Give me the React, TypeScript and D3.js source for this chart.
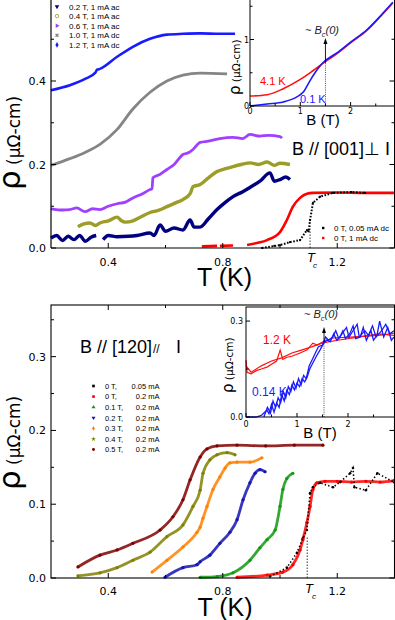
import React from "react";
import * as d3 from "d3";

type P = [number, number | null];

// ---------- TOP PANEL : B // [001] ⊥ I  (T in K, rho in µΩ-cm) ----------
const topLegend = ["0.2 T, 1 mA ac", "0.4 T, 1 mA ac", "0.6 T, 1 mA ac", "1.0 T, 1 mA dc", "1.2 T, 1 mA dc"];
const topColors = ["#000080", "#9c9c28", "#a040ff", "#858585", "#1a1aff"];
const topZeroLegend = ["0 T, 0.05 mA dc", "0 T, 1 mA dc"];

const top12T: P[] = [[0.2,0.378],[0.266,0.39],[0.319,0.405],[0.355,0.42],[0.361,0.427],[0.371,0.429],[0.431,0.458],[0.486,0.482],[0.546,0.501],[0.605,0.511],[0.661,0.513],[0.721,0.514],[0.790,0.513],[0.843,0.513]];
const top10T: P[] = [[0.2,0.198],[0.266,0.214],[0.319,0.229],[0.371,0.248],[0.431,0.284],[0.486,0.333],[0.546,0.373],[0.605,0.40],[0.661,0.414],[0.721,0.419],[0.815,0.417]];
const top06T: P[] = [[0.2,0.094],[0.24,0.091],[0.266,0.092],[0.29,0.096],[0.319,0.087],[0.345,0.094],[0.371,0.092],[0.40,0.1],[0.431,0.106],[0.46,0.11],[0.486,0.12],[0.52,0.13],[0.546,0.14],[0.553,0.142],[0.556,0.168],[0.58,0.176],[0.605,0.188],[0.63,0.2],[0.661,0.224],[0.68,0.228],[0.696,0.236],[0.721,0.253],[0.75,0.256],[0.790,0.262],[0.836,0.265],[0.87,0.262],[0.895,0.272],[0.93,0.268],[0.96,0.27],[1.0,0.267],[1.007,0.263]];
const top04T: P[] = [[0.294,0.051],[0.315,0.058],[0.336,0.06],[0.355,0.054],[0.371,0.06],[0.40,0.065],[0.431,0.074],[0.445,0.066],[0.459,0.062],[0.486,0.065],[0.515,0.075],[0.546,0.085],[0.575,0.09],[0.605,0.099],[0.635,0.108],[0.661,0.116],[0.686,0.13],[0.696,0.147],[0.721,0.152],[0.75,0.168],[0.780,0.183],[0.81,0.19],[0.836,0.195],[0.865,0.2],[0.895,0.204],[0.925,0.2],[0.955,0.206],[0.98,0.198],[1.0,0.203],[1.035,0.2]];
const top02T: P[] = [[0.2,0.024],[0.22,0.03],[0.24,0.018],[0.26,0.028],[0.28,0.02],[0.30,0.03],[0.32,0.016],[0.34,0.026],[0.358,0.03],[0.37,null],[0.382,0.02],[0.40,0.03],[0.431,0.027],[0.47,0.028],[0.50,0.03],[0.546,0.036],[0.56,0.03],[0.581,0.055],[0.60,0.04],[0.63,0.048],[0.661,0.043],[0.686,0.067],[0.70,0.05],[0.721,0.05],[0.75,0.07],[0.780,0.092],[0.81,0.11],[0.836,0.123],[0.87,0.135],[0.895,0.145],[0.93,0.16],[0.965,0.18],[0.98,0.16],[1.0,0.164],[1.02,0.17],[1.035,0.164]];
const top0Tdc1: P[] = [[0.727,0.004],[0.78,0.005],[0.785,null],[0.79,0.005],[0.836,0.006],[0.86,null],[0.885,0.007],[0.92,0.012],[0.955,0.019],[1.0,0.038],[1.024,0.067],[1.045,0.099],[1.07,0.12],[1.094,0.13],[1.115,0.132],[1.2,0.133],[1.3,0.132],[1.398,0.132]];
const top0Tdc005: P[] = [[0.937,0.0],[0.98,0.005],[1.0,0.007],[1.035,0.014],[1.07,0.019],[1.094,0.043],[1.10,0.04],[1.105,0.067],[1.115,0.108],[1.14,0.123],[1.185,0.132],[1.25,0.134],[1.297,0.132]];

// top inset : rho vs B
const topIn41K: P[] = [[0,0.15],[0.34,0.17],[0.66,0.26],[1.0,0.4],[1.25,0.53],[1.45,0.64],[1.75,0.8],[2.0,0.95],[2.33,1.14],[2.6,1.35],[2.84,1.55]];
const topIn01K: P[] = [[0,0],[0.34,0.03],[0.66,0.06],[0.94,0.14],[1.06,0.21],[1.2,0.39],[1.33,0.54],[1.45,0.65],[1.75,0.81],[2.0,0.96],[2.33,1.15],[2.6,1.36],[2.84,1.56]];

// ---------- BOTTOM PANEL : B // [120] // I ----------
const botField = ["0 T,", "0 T,", "0.1 T,", "0.2 T,", "0.3 T,", "0.4 T,", "0.5 T,"];
const botCurrent = ["0.05 mA", "0.2 mA", "0.2 mA", "0.2 mA", "0.2 mA", "0.2 mA", "0.2 mA"];
const botColors = ["#000000", "#ff0000", "#119911", "#1414b4", "#ff8000", "#808000", "#800000"];

const bot0T005: P[] = [[0.965,0.002],[1.024,0.014],[1.059,0.034],[1.080,0.054],[1.094,0.065],[1.105,0.115],[1.115,0.123],[1.140,0.129],[1.185,0.123],[1.21,0.13],[1.245,0.142],[1.255,0.149],[1.26,0.123],[1.3,0.119],[1.34,0.142],[1.398,0.13]];
const bot0T02: P[] = [[0.850,0.001],[0.955,0.004],[1.010,0.008],[1.045,0.018],[1.070,0.038],[1.080,0.052],[1.094,0.075],[1.105,0.097],[1.115,0.12],[1.129,0.129],[1.157,0.131],[1.2,0.131],[1.25,0.13],[1.3,0.131],[1.35,0.13],[1.398,0.132]];
const bot01T: P[] = [[0.721,0.001],[0.780,0.002],[0.836,0.007],[0.895,0.024],[0.930,0.041],[0.955,0.052],[0.983,0.065],[1.0,0.097],[1.010,0.12],[1.024,0.135],[1.045,0.142]];
const bot02T: P[] = [[0.598,0.001],[0.661,0.014],[0.710,0.018],[0.721,0.022],[0.755,0.031],[0.790,0.047],[0.825,0.062],[0.850,0.079],[0.871,0.106],[0.895,0.129],[0.913,0.142],[0.930,0.147],[0.948,0.144]];
const bot03T: P[] = [[0.553,0.008],[0.605,0.024],[0.661,0.042],[0.710,0.062],[0.721,0.069],[0.731,0.081],[0.745,0.097],[0.766,0.12],[0.790,0.137],[0.808,0.149],[0.825,0.156],[0.850,0.157],[0.895,0.157],[0.937,0.163]];
const bot04T: P[] = [[0.294,0.003],[0.371,0.007],[0.431,0.014],[0.486,0.024],[0.546,0.035],[0.605,0.056],[0.661,0.072],[0.696,0.097],[0.721,0.119],[0.731,0.142],[0.755,0.16],[0.780,0.167],[0.815,0.17],[0.843,0.167]];
const bot05T: P[] = [[0.294,0.015],[0.371,0.031],[0.431,0.038],[0.486,0.047],[0.581,0.065],[0.626,0.083],[0.661,0.106],[0.686,0.133],[0.721,0.164],[0.745,0.175],[0.780,0.179],[0.85,0.18],[0.95,0.179],[1.05,0.18],[1.150,0.18]];
const botSeries = [bot0T005, bot0T02, bot01T, bot02T, bot03T, bot04T, bot05T];

// bottom inset : rho vs B
const botIn12Ka: P[] = [[0,0.178],[0.02,0.14],[0.1,0.135],[0.2,0.145],[0.3,0.15],[0.41,0.156],[0.5,0.165],[0.6,0.175],[0.67,0.209],[0.72,0.18],[0.8,0.187],[0.9,0.19],[1.06,0.2],[1.2,0.21],[1.31,0.231],[1.4,0.225],[1.51,0.235],[1.7,0.247],[2.04,0.25],[2.37,0.253],[2.6,0.255],[2.9,0.262]];
const botIn12Kb: P[] = [[0,0.16],[0.1,0.14],[0.3,0.16],[0.5,0.175],[0.7,0.185],[0.9,0.2],[1.1,0.21],[1.3,0.22],[1.5,0.232],[1.8,0.24],[2.2,0.25],[2.6,0.26],[2.9,0.255]];
const botIn014Ka: P[] = [[0,0],[0.2,0],[0.3,0.005],[0.41,0.022],[0.45,0.01],[0.5,0.04],[0.55,0.015],[0.6,0.044],[0.65,0.03],[0.7,0.07],[0.75,0.05],[0.8,0.084],[0.85,0.07],[0.9,0.1],[0.95,0.085],[1.0,0.106],[1.05,0.095],[1.1,0.12],[1.15,0.11],[1.2,0.125],[1.25,0.15],[1.31,0.169],[1.38,0.19],[1.45,0.209],[1.52,0.23],[1.59,0.241],[1.65,0.235],[1.72,0.26],[1.78,0.24],[1.84,0.25],[1.9,0.27],[1.95,0.245],[2.04,0.262],[2.1,0.285],[2.15,0.245],[2.24,0.25],[2.3,0.28],[2.36,0.24],[2.45,0.27],[2.5,0.24],[2.57,0.256],[2.62,0.3],[2.7,0.25],[2.78,0.28],[2.85,0.24],[2.9,0.25]];
const botIn014Kb: P[] = [[0.35,0],[0.42,0.03],[0.48,0.012],[0.53,0.05],[0.58,0.03],[0.63,0.06],[0.68,0.045],[0.73,0.08],[0.78,0.06],[0.83,0.095],[0.88,0.08],[0.93,0.11],[0.98,0.09],[1.03,0.12],[1.08,0.1],[1.13,0.13],[1.18,0.12],[1.24,0.16],[1.3,0.18],[1.36,0.2],[1.42,0.22],[1.5,0.225],[1.56,0.25],[1.62,0.24],[1.7,0.25],[1.76,0.27],[1.82,0.245],[1.88,0.26],[1.97,0.28],[2.02,0.25],[2.08,0.265],[2.18,0.29],[2.22,0.25],[2.33,0.27],[2.4,0.255],[2.48,0.285],[2.55,0.25],[2.66,0.27],[2.74,0.29],[2.82,0.26],[2.9,0.27]];

// ---------- scales ----------
const xT = d3.scaleLinear().domain([0.2, 1.4]).range([51, 394.5]);
const yT = d3.scaleLinear().domain([0, 0.6]).range([248, -2.5]);
const yB = d3.scaleLinear().domain([0, 0.37]).range([578, 305]);
const xTI = d3.scaleLinear().domain([0, 2.863]).range([250, 394]);
const yTI = d3.scaleLinear().domain([0, 1.594]).range([106, 0]);
const xBI = d3.scaleLinear().domain([0, 2.902]).range([246, 394]);
const yBI = d3.scaleLinear().domain([0, 0.344]).range([417, 307]);

const lineOf = (data: P[], x: any, y: any, curve: any = d3.curveMonotoneX) =>
  d3.line<P>().defined((d) => d[1] !== null).x((d) => x(d[0])).y((d) => y(d[1] as number)).curve(curve)(data) || "";

const F = "'Liberation Sans', Arial, sans-serif";
const FD = "'DejaVu Sans', sans-serif";

function Ticks({ x, y, xMaj, xMin, yMaj, yMin, L = 5, l = 3, right = true, top = true }: any) {
  const [x0, x1] = x.range();
  const [yb, yt] = y.range();
  const out: any[] = [];
  const add = (k: string, a: number, b: number, c: number, d: number) =>
    out.push(<line key={k} x1={a} y1={b} x2={c} y2={d} stroke="#000" strokeWidth={1} />);
  xMaj.forEach((v: number, i: number) => { add("xb" + i, x(v), yb, x(v), yb - L); if (top) add("xt" + i, x(v), yt, x(v), yt + L); });
  xMin.forEach((v: number, i: number) => { add("xbm" + i, x(v), yb, x(v), yb - l); if (top) add("xtm" + i, x(v), yt, x(v), yt + l); });
  yMaj.forEach((v: number, i: number) => { add("yl" + i, x0, y(v), x0 + L, y(v)); if (right) add("yr" + i, x1, y(v), x1 - L, y(v)); });
  yMin.forEach((v: number, i: number) => { add("ylm" + i, x0, y(v), x0 + l, y(v)); if (right) add("yrm" + i, x1, y(v), x1 - l, y(v)); });
  return <g>{out}</g>;
}

const sym = (type: any, size: number) => d3.symbol().type(type).size(size)() || "";

export default function App() {
  const topSeries = [top02T, top04T, top06T, top10T, top12T];
  const topWidths = [3.4, 3.4, 2.8, 2.8, 2.6];
  const topSyms = [d3.symbolTriangle, d3.symbolCircle, d3.symbolTriangle, d3.symbolCross, d3.symbolDiamond];
  const topRot = [180, 0, 90, 45, 0];
  const botSyms = [d3.symbolSquare, d3.symbolSquare, d3.symbolTriangle, d3.symbolTriangle, d3.symbolDiamond, d3.symbolStar, d3.symbolCircle];
  const botRot = [0, 0, 0, 180, 0, 0, 0];
  const legRowsTop = topLegend.map((_, i) => 6.5 + i * 9.6);
  const legRowsBot = botField.map((_, i) => 386 + i * 10.6);

  return (
    <svg width={395} height={620} style={{ position: "absolute", left: 0, top: 0, background: "#fff" }} fontFamily={F}>
      <rect x={0} y={0} width={395} height={620} fill="#fff" />
      {/* ================= TOP PANEL ================= */}
      <g>
        {topSeries.map((s, i) => (
          <path key={"ts" + i} d={lineOf(s, xT, yT)} fill="none" stroke={topColors[i]} strokeWidth={topWidths[i]} strokeLinejoin="round" />
        ))}
        <path d={lineOf(top0Tdc1, xT, yT)} fill="none" stroke="#ff0000" strokeWidth={2.6} />
        <path d={lineOf(top0Tdc005, xT, yT, d3.curveLinear)} fill="none" stroke="#000" strokeWidth={2} strokeDasharray="1.6 1.6" />
        {top0Tdc005.map((d, i) => (
          <circle key={"tb" + i} cx={xT(d[0])} cy={yT(d[1] as number)} r={1.1} fill="#000" />
        ))}
        {/* Tc marker */}
        <line x1={xT(1.105)} x2={xT(1.105)} y1={248} y2={226} stroke="#000" strokeWidth={0.8} strokeDasharray="1.5 1.5" />
        {/* top inset */}
        <rect x={250} y={-1} width={145} height={107} fill="#fff" />
        <path d={lineOf(topIn41K, xTI, yTI)} fill="none" stroke="#ff1010" strokeWidth={1.6} />
        <path d={lineOf(topIn01K, xTI, yTI)} fill="none" stroke="#1a1aff" strokeWidth={1.6} />
        <line x1={xTI(1.5)} x2={xTI(1.5)} y1={106} y2={yTI(0.65)} stroke="#000" strokeWidth={0.7} strokeDasharray="1 1.2" />
        <line x1={xTI(1.5)} x2={xTI(1.5)} y1={yTI(0.65)} y2={42} stroke="#000" strokeWidth={0.9} />
        <path d={`M${xTI(1.5)},38 L${xTI(1.5) - 2},44 L${xTI(1.5) + 2},44 Z`} fill="#000" />
        <text x={305} y={34} fontSize={11} fontStyle="italic" fill="#222">
          <tspan fontStyle="normal">~ </tspan>B<tspan fontSize={7.5} dy={3}>c</tspan><tspan dy={-3}>(0)</tspan>
        </text>
        <text x={260} y={85} fontSize={11} fill="#ff0000">4.1 K</text>
        <text x={300} y={103} fontSize={11} fill="#1a1aff">0.1 K</text>
        <line x1={250} x2={250} y1={-1} y2={106} stroke="#000" strokeWidth={1} />
        <line x1={250} x2={394.5} y1={106} y2={106} stroke="#000" strokeWidth={1} />
        <Ticks x={xTI} y={yTI} xMaj={[0, 1, 2]} xMin={[0.5, 1.5, 2.5]} yMaj={[0, 1]} yMin={[0.5, 1.5]} L={4} l={2.5} right={false} top={false} />
        {[0, 1, 2].map((v) => (
          <text key={"tix" + v} x={xTI(v)} y={114} fontSize={8} fontFamily={FD} textAnchor="middle">{v}</text>
        ))}
        {[0, 1].map((v) => (
          <text key={"tiy" + v} x={249} y={yTI(v) + 3} fontSize={8} fontFamily={FD} textAnchor="end">{v}</text>
        ))}
        <text x={323} y={125} fontSize={15} textAnchor="middle">B (T)</text>
        <text transform="translate(240,95) rotate(-90)" fontFamily={FD}>
          <tspan fontSize={15}>ρ</tspan><tspan fontSize={10.5}> (μΩ-cm)</tspan>
        </text>
        {/* frame & ticks */}
        <line x1={51} x2={51} y1={-1} y2={248} stroke="#000" strokeWidth={1.2} />
        <line x1={51} x2={394.5} y1={248} y2={248} stroke="#000" strokeWidth={1.2} />
        <line x1={394.5} x2={394.5} y1={-1} y2={248} stroke="#000" strokeWidth={1} />
        <Ticks x={xT} y={yT} xMaj={[0.4, 0.8, 1.2]} xMin={[0.6, 1.0]} yMaj={[0, 0.2, 0.4]} yMin={[0.1, 0.3, 0.5]} top={false} />
        {[0.4, 0.8, 1.2].map((v) => (
          <text key={"tx" + v} x={xT(v)} y={265.5} fontSize={11} fontFamily={FD} textAnchor="middle">{v.toFixed(1)}</text>
        ))}
        {[0, 0.2, 0.4].map((v) => (
          <text key={"ty" + v} x={46} y={yT(v) + 4} fontSize={11} fontFamily={FD} textAnchor="end">{v.toFixed(1)}</text>
        ))}
        <text x={307} y={262} fontSize={13} fontStyle="italic">T</text>
        <text x={313} y={267.5} fontSize={8} fontStyle="italic">c</text>
        <text x={224.5} y={286} fontSize={25} textAnchor="middle">T (K)</text>
        <text transform="translate(20,190) rotate(-90)" fontFamily={FD}>
          <tspan fontSize={31}>ρ</tspan><tspan fontSize={17}> (μΩ-cm)</tspan>
        </text>
        <text x={292} y={155} fontSize={18}>B // [001]⊥ I</text>
        {/* legends */}
        {topLegend.map((t, i) => (
          <g key={"tl" + i}>
            <path d={sym(topSyms[i], 9)} transform={`translate(57,${legRowsTop[i]}) rotate(${topRot[i]})`}
              fill={i === 1 ? "none" : topColors[i]} stroke={i === 1 ? topColors[i] : "none"} strokeWidth={0.8} />
            <text x={69} y={legRowsTop[i] + 3} fontSize={8}>{t}</text>
          </g>
        ))}
        {topZeroLegend.map((t, i) => (
          <g key={"tz" + i}>
            <rect x={322} y={228 + i * 10 - 1.2} width={2.4} height={2.4} fill={i === 0 ? "#000" : "#ff0000"} />
            <text x={334} y={228 + i * 10 + 3} fontSize={8}>{t}</text>
          </g>
        ))}
      </g>

      {/* ================= BOTTOM PANEL ================= */}
      <g>
        {botSeries.map((s, i) =>
          i === 0 ? null : (
            <path key={"bs" + i} d={lineOf(s, xT, yB)} fill="none" stroke={botColors[i]} strokeWidth={2.8} opacity={0.85} />
          )
        )}
        {botSeries.map((s, i) =>
          s.map((d, j) => (
            <circle key={"bd" + i + "-" + j} cx={xT(d[0])} cy={yB(d[1] as number)} r={i === 0 ? 1.3 : 1.6} fill={botColors[i]} />
          ))
        )}
        <path d={lineOf(bot0T005, xT, yB, d3.curveLinear)} fill="none" stroke="#000" strokeWidth={1.6} strokeDasharray="1.4 2.2" />
        <line x1={xT(1.095)} x2={xT(1.095)} y1={578} y2={537} stroke="#000" strokeWidth={0.8} strokeDasharray="1.5 1.5" />
        {/* bottom inset */}
        <rect x={246} y={307} width={148.5} height={110} fill="#fff" />
        <path d={lineOf(botIn12Ka, xBI, yBI, d3.curveLinear)} fill="none" stroke="#ff1010" strokeWidth={1.2} />
        <path d={lineOf(botIn12Kb, xBI, yBI, d3.curveLinear)} fill="none" stroke="#ff1010" strokeWidth={1.2} />
        <path d={lineOf(botIn014Ka, xBI, yBI, d3.curveLinear)} fill="none" stroke="#1a1aff" strokeWidth={1.3} />
        <path d={lineOf(botIn014Kb, xBI, yBI, d3.curveLinear)} fill="none" stroke="#1a1aff" strokeWidth={1.3} />
        <line x1={xBI(1.53)} x2={xBI(1.53)} y1={417} y2={yBI(0.235)} stroke="#000" strokeWidth={0.7} strokeDasharray="1 1.2" />
        <line x1={xBI(1.53)} x2={xBI(1.53)} y1={yBI(0.235)} y2={331} stroke="#000" strokeWidth={0.9} />
        <path d={`M${xBI(1.53)},327 L${xBI(1.53) - 2},333 L${xBI(1.53) + 2},333 Z`} fill="#000" />
        <text x={304} y={318} fontSize={11} fontStyle="italic" fill="#222">
          <tspan fontStyle="normal">~ </tspan>B<tspan fontSize={7.5} dy={3}>c</tspan><tspan dy={-3}>(0)</tspan>
        </text>
        <text x={263} y={344} fontSize={12} fill="#ff0000">1.2 K</text>
        <text x={252} y={396} fontSize={12} fill="#1a1aff">0.14 K</text>
        <rect x={246} y={307} width={148.5} height={110} fill="none" stroke="#000" strokeWidth={1} />
        <Ticks x={xBI} y={yBI} xMaj={[0, 1, 2]} xMin={[0.5, 1.5, 2.5]} yMaj={[0, 0.3]} yMin={[0.15]} L={4} l={2.5} right={false} top={false} />
        {[0, 1, 2].map((v) => (
          <text key={"bix" + v} x={xBI(v)} y={427} fontSize={8} fontFamily={FD} textAnchor="middle">{v}</text>
        ))}
        {[0, 0.3].map((v) => (
          <text key={"biy" + v} x={243} y={yBI(v) + 3} fontSize={8} fontFamily={FD} textAnchor="end">{v.toFixed(1)}</text>
        ))}
        <text x={320} y={438} fontSize={15} textAnchor="middle">B (T)</text>
        <text transform="translate(233,393) rotate(-90)" fontFamily={FD}>
          <tspan fontSize={15}>ρ</tspan><tspan fontSize={10.5}> (μΩ-cm)</tspan>
        </text>
        {/* frame & ticks */}
        <rect x={51} y={305} width={343.5} height={273} fill="none" stroke="#000" strokeWidth={1.1} />
        <Ticks x={xT} y={yB} xMaj={[0.4, 0.8, 1.2]} xMin={[0.6, 1.0]} yMaj={[0, 0.1, 0.2, 0.3]} yMin={[0.05, 0.15, 0.25, 0.35]} />
        {[0.4, 0.8, 1.2].map((v) => (
          <text key={"bx" + v} x={xT(v)} y={595} fontSize={11} fontFamily={FD} textAnchor="middle">{v.toFixed(1)}</text>
        ))}
        {[0, 0.1, 0.2, 0.3].map((v) => (
          <text key={"by" + v} x={46} y={yB(v) + 4} fontSize={11} fontFamily={FD} textAnchor="end">{v.toFixed(1)}</text>
        ))}
        <text x={305} y={593} fontSize={13} fontStyle="italic">T</text>
        <text x={312} y={599} fontSize={8} fontStyle="italic">c</text>
        <text x={225} y={616} fontSize={25} textAnchor="middle">T (K)</text>
        <text transform="translate(20,490) rotate(-90)" fontFamily={FD}>
          <tspan fontSize={31}>ρ</tspan><tspan fontSize={17}> (μΩ-cm)</tspan>
        </text>
        <text x={80} y={353} fontSize={18}>B // [120]</text>
        <text x={153} y={353} fontSize={12}>//</text>
        <text x={176} y={353} fontSize={18}>I</text>
        {botField.map((t, i) => (
          <g key={"bl" + i}>
            <path d={sym(botSyms[i], 7)} transform={`translate(93.5,${legRowsBot[i]}) rotate(${botRot[i]})`} fill={botColors[i]} />
            <text x={105} y={legRowsBot[i] + 2.8} fontSize={7.5}>{t}</text>
            <text x={159.5} y={legRowsBot[i] + 2.8} fontSize={7.5} textAnchor="end">{botCurrent[i]}</text>
          </g>
        ))}
      </g>
    </svg>
  );
}
